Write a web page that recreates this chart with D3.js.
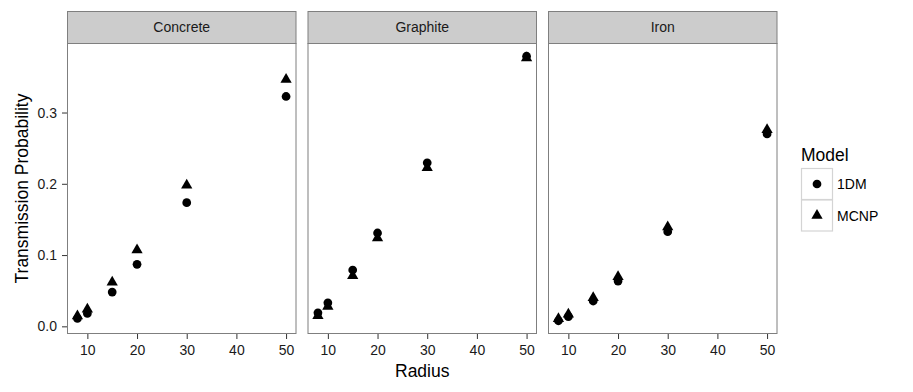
<!DOCTYPE html>
<html>
<head>
<meta charset="utf-8">
<script src="https://cdn.jsdelivr.net/npm/d3@7"></script>
<style>
  body { margin: 0; background: #fff; }
  text { font-family: "Liberation Sans", Arial, Helvetica, sans-serif; }
</style>
</head>
<body>
<div id="chart"></div>
<script>
// data
let materials = ["Concrete", "Graphite", "Iron"];
let radius = [8, 10, 15, 20, 30, 50];
let models = ["1DM", "MCNP"];

let concrete1DM  = [0.011, 0.018, 0.048, 0.087, 0.1735, 0.3225];
let concreteMCNP = [0.0145, 0.024, 0.062, 0.107, 0.198, 0.3465];
let graphite1DM  = [0.019, 0.033, 0.079, 0.131, 0.2295, 0.379];
let graphiteMCNP = [0.015, 0.028, 0.071, 0.124, 0.2225, 0.3765];
let iron1DM      = [0.0078, 0.0136, 0.0355, 0.0635, 0.1328, 0.270];
let ironMCNP     = [0.0105, 0.0168, 0.040, 0.0697, 0.1393, 0.276];

let xTicks = [10, 20, 30, 40, 50];
let yTicks = [0.0, 0.1, 0.2, 0.3];

let series = {
  "Concrete": { "1DM": concrete1DM, "MCNP": concreteMCNP },
  "Graphite": { "1DM": graphite1DM, "MCNP": graphiteMCNP },
  "Iron": { "1DM": iron1DM, "MCNP": ironMCNP }
};

let rows = [];
materials.forEach(m => {
  models.forEach(mod => {
    series[m][mod].forEach((v, i) => rows.push({ material: m, model: mod, r: radius[i], p: v }));
  });
});

let width = 913,
    height = 392;

let panelLefts = [67, 307.5, 548],
    panelW = 229.5,
    stripTop = 11,
    stripH = 32,
    plotTop = 43,
    plotBottom = 334;

// ggplot style 5% expansion
function expand(ext) {
  let d = (ext[1] - ext[0]) * 0.05;
  return [ext[0] - d, ext[1] + d];
}

let x = d3.scaleLinear()
    .domain(expand(d3.extent(radius)))
    .range([0, panelW]);

let y = d3.scaleLinear()
    .domain(expand(d3.extent(rows, d => d.p)))
    .range([plotBottom, plotTop]);

let shape = d3.scaleOrdinal()
    .domain(models)
    .range([d3.symbolCircle, d3.symbolTriangle]);
let shapeSize = d3.scaleOrdinal().domain(models).range([60, 55]);

let svg = d3.select("#chart")
    .append("svg")
    .attr("width", width)
    .attr("height", height);

svg.append("rect").attr("width", width).attr("height", height).attr("fill", "#fff");

materials.forEach((m, k) => {
  let g = svg.append("g").attr("transform", "translate(" + panelLefts[k] + ",0)");

  g.append("rect")
    .attr("x", 0).attr("y", plotTop)
    .attr("width", panelW).attr("height", plotBottom - plotTop)
    .attr("fill", "#fff");

  // strip
  g.append("rect")
    .attr("x", 0.5).attr("y", stripTop + 0.5)
    .attr("width", panelW - 1).attr("height", stripH)
    .attr("fill", "#cccccc")
    .attr("stroke", "#7f7f7f")
    .attr("stroke-width", 1);
  g.append("text")
    .attr("x", panelW / 2).attr("y", stripTop + stripH / 2 + 5)
    .attr("text-anchor", "middle")
    .style("font-size", "14px")
    .style("fill", "#1a1a1a")
    .text(m);

  // points
  g.selectAll("path.pt")
    .data(rows.filter(d => d.material == m))
    .enter().append("path")
    .attr("class", "pt")
    .attr("transform", d => "translate(" + x(d.r) + "," + y(d.p) + ")")
    .attr("d", d => d3.symbol().type(shape(d.model)).size(shapeSize(d.model))())
    .attr("fill", "#000");

  // x axis
  let xa = g.append("g")
    .attr("transform", "translate(0," + plotBottom + ")")
    .call(d3.axisBottom(x).tickValues(xTicks).tickSize(5).tickPadding(6).tickFormat(d3.format("d")));
  xa.select(".domain").remove();
  xa.selectAll("line").attr("stroke", "#333");
  xa.selectAll("text").style("font-size", "14px").style("fill", "#1a1a1a");

  if (k == 0) {
    let ya = g.append("g")
      .call(d3.axisLeft(y).tickValues(yTicks).tickSize(5).tickPadding(5).tickFormat(d3.format(".1f")));
    ya.select(".domain").remove();
    ya.selectAll("line").attr("stroke", "#333");
    ya.selectAll("text").style("font-size", "14px").style("fill", "#1a1a1a");
  }

  // panel border
  g.append("rect")
    .attr("x", 0.5).attr("y", plotTop + 0.5)
    .attr("width", panelW - 1).attr("height", plotBottom - plotTop - 1)
    .attr("fill", "none")
    .attr("stroke", "#7f7f7f")
    .attr("stroke-width", 1);
});

// axis titles
svg.append("text")
  .attr("x", (panelLefts[0] + panelLefts[2] + panelW) / 2)
  .attr("y", 377)
  .attr("text-anchor", "middle")
  .style("font-size", "17.5px")
  .text("Radius");

svg.append("text")
  .attr("transform", "translate(28," + (plotTop + plotBottom) / 2 + ") rotate(-90)")
  .attr("text-anchor", "middle")
  .style("font-size", "17.5px")
  .text("Transmission Probability");

// legend
let leg = svg.append("g").attr("transform", "translate(801,0)");
leg.append("text")
  .attr("x", 0).attr("y", 160.5)
  .style("font-size", "17.5px")
  .text("Model");

let keys = leg.selectAll("g.key")
  .data(models)
  .enter().append("g")
  .attr("class", "key")
  .attr("transform", (d, i) => "translate(0," + (168 + i * 31.5) + ")");

keys.append("rect")
  .attr("x", 0.5).attr("y", 0.5)
  .attr("width", 31).attr("height", 31)
  .attr("fill", "#fff")
  .attr("stroke", "#d4d4d4")
  .attr("stroke-width", 1.2);

keys.append("path")
  .attr("transform", "translate(16,16)")
  .attr("d", d => d3.symbol().type(shape(d)).size(shapeSize(d))())
  .attr("fill", "#000");

keys.append("text")
  .attr("x", 36).attr("y", 21)
  .style("font-size", "14px")
  .text(d => d);
</script>
</body>
</html>
